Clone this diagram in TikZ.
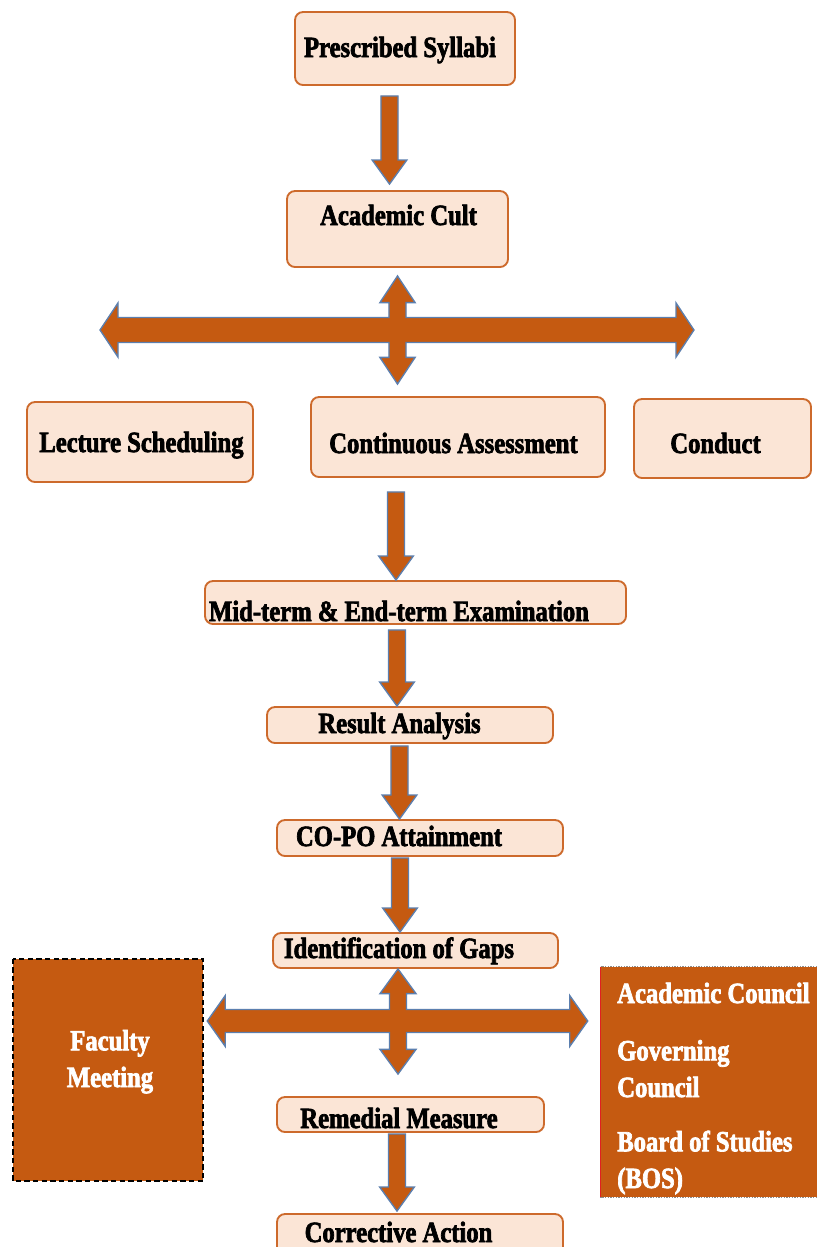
\documentclass[tikz,border=0pt]{standalone}
\usepackage{fontspec}
\newfontfamily\hfont{Liberation Serif}[FakeStretch=0.84,BoldFeatures={FakeBold=2.4}]
\usetikzlibrary{calc,fit}

\definecolor{boxfill}{HTML}{FBE5D6}
\definecolor{boxline}{HTML}{CD6A2C}
\definecolor{rust}{HTML}{C55A11}
\definecolor{arrowline}{HTML}{5B7FAF}
\definecolor{dotgray}{HTML}{8C8C8C}
\definecolor{edgered}{HTML}{E02020}

\tikzset{
  stagebox/.style={draw=boxline, fill=boxfill, line width=1.4pt, rounded corners=6pt, inner sep=0pt},
  darkbox/.style={fill=rust, inner sep=0pt},
  captxt/.style={font=\hfont\bfseries\fontsize{22}{27.5}\selectfont, inner sep=0pt, anchor=base},
  whitetxt/.style={captxt, text=white},
  blk/.style={fill=rust, draw=arrowline, line width=1pt, line join=miter},
}

% downward block arrow: #1 source node, #2 target node, #3 x (px), #4 gap below source, #5 gap above target
\newcommand{\blockdown}[5]{%
  \draw[blk] let \p1=(#1.south), \p2=(#2.north), \p3=(#3,0) in
    (\x3-6.4pt,\y1-#4*0.75pt) -- (\x3+6.4pt,\y1-#4*0.75pt)
    -- (\x3+6.4pt,\y2+#5*0.75pt+18pt) -- (\x3+13pt,\y2+#5*0.75pt+18pt)
    -- (\x3,\y2+#5*0.75pt)
    -- (\x3-13pt,\y2+#5*0.75pt+18pt) -- (\x3-6.4pt,\y2+#5*0.75pt+18pt) -- cycle;}

% four-way block arrow: tips #1 top, #2 bottom, #3 left, #4 right
\newcommand{\blockcross}[4]{%
  \draw[blk] let \p1=(#1), \p2=(#2), \p3=(#3), \p4=(#4) in
    (\x1,\y1) -- (\x1+\crHV,\y1-\crLV) -- (\x1+\crSV,\y1-\crLV) -- (\x1+\crSV,\y3+\crSH)
    -- (\x4-\crLH,\y3+\crSH) -- (\x4-\crLH,\y3+\crHH) -- (\x4,\y3) -- (\x4-\crLH,\y3-\crHH)
    -- (\x4-\crLH,\y3-\crSH) -- (\x1+\crSV,\y3-\crSH) -- (\x1+\crSV,\y2+\crLV)
    -- (\x1+\crHV,\y2+\crLV) -- (\x1,\y2) -- (\x1-\crHV,\y2+\crLV) -- (\x1-\crSV,\y2+\crLV)
    -- (\x1-\crSV,\y3-\crSH) -- (\x3+\crLH,\y3-\crSH) -- (\x3+\crLH,\y3-\crHH) -- (\x3,\y3)
    -- (\x3+\crLH,\y3+\crHH) -- (\x3+\crLH,\y3+\crSH) -- (\x1-\crSV,\y3+\crSH)
    -- (\x1-\crSV,\y1-\crLV) -- (\x1-\crHV,\y1-\crLV) -- cycle;}

\begin{document}
\begin{tikzpicture}[x=0.75pt,y=-0.75pt]
\useasboundingbox (0,0) rectangle (817,1247);
\fill[white] (0,0) rectangle (817,1247);

% stage boxes
\node[stagebox, fit={(295,12) (515,85)}]    (ps) {};
\node[stagebox, fit={(287,191) (508,267)}]  (ac) {};
\node[stagebox, fit={(27,402) (253,482)}]   (ls) {};
\node[stagebox, fit={(311,397) (605,477)}]  (ca) {};
\node[stagebox, fit={(634,399) (811,478)}]  (cd) {};
\node[stagebox, fit={(205,581) (626,624)}]  (me) {};
\node[stagebox, fit={(267,707) (553,743)}]  (ra) {};
\node[stagebox, fit={(277,820) (563,856)}]  (co) {};
\node[stagebox, fit={(273,933) (558,968)}]  (ig) {};
\node[stagebox, fit={(277,1097) (544,1132)}] (rm) {};
\node[stagebox, fit={(277,1214) (563,1262)}] (cr) {};

% side panels
\node[darkbox, fit={(13,959) (203,1181)}] (fm) {};
\draw[black, line width=1.3pt, dash pattern=on 4pt off 2.5pt] (fm.north west) rectangle (fm.south east);
\node[darkbox, fit={(601,967) (830,1197)}] (gb) {};
\draw[dotgray, line width=1pt, densely dotted] (gb.north west) rectangle (gb.south east);
\draw[edgered, line width=1pt] (gb.north west) -- (gb.south west);

% labels
\node[captxt] (psT) at (400,57)    {Prescribed Syllabi};
\node[captxt] (acT) at (398.5,225) {Academic Cult};
\node[captxt] (lsT) at (141.5,452) {Lecture Scheduling};
\node[captxt] (caT) at (453.5,453) {Continuous Assessment};
\node[captxt] (cdT) at (715.5,453) {Conduct};
\node[captxt] (meT) at (399,621)   {Mid-term \& End-term Examination};
\node[captxt] (raT) at (399.5,733) {Result Analysis};
\node[captxt] (coT) at (399,846)   {CO-PO Attainment};
\node[captxt] (igT) at (399,958)   {Identification of Gaps};
\node[captxt] (rmT) at (399,1128)  {Remedial Measure};
\node[captxt] (crT) at (398.5,1242) {Corrective Action};

% multi-line labels sit on the baseline of their last line
\node[whitetxt, align=center] (fmT) at (110,1087) {Faculty\\Meeting};
\node[whitetxt, anchor=base west] (gb1) at (617,1003) {Academic Council};
\node[whitetxt, anchor=base west, align=left] (gb2) at (617,1097) {Governing\\Council};
\node[whitetxt, anchor=base west, align=left] (gb3) at (617,1188) {Board of Studies\\(BOS)};

% straight flow arrows
\blockdown{ps}{ac}{389.5}{10}{6}
\blockdown{ca}{me}{396}{14}{0}
\blockdown{me}{ra}{397}{5}{0}
\blockdown{ra}{co}{399.5}{2}{0}
\blockdown{co}{ig}{400}{1}{0}
\blockdown{rm}{cr}{397}{1}{2}

% upper four-way arrow
\coordinate (hub1) at (397.5,330);
\coordinate (xl) at (100,330);
\coordinate (xr) at (694,330);
\def\crSV{6.4pt}\def\crHV{13.2pt}\def\crLV{20pt}
\def\crSH{9.4pt}\def\crHH{20.3pt}\def\crLH{13.5pt}
\blockcross{$(ac.south -| hub1)+(0,8)$}{$(ca.north -| hub1)+(0,-12)$}{xl}{xr}

% lower four-way arrow
\coordinate (hub2) at (398,1021);
\def\crSV{6.4pt}\def\crHV{13.5pt}\def\crLV{18.5pt}
\def\crSH{8.6pt}\def\crHH{19.1pt}\def\crLH{13.5pt}
\blockcross{ig.south -| hub2}{$(rm.north -| hub2)+(0,-22)$}{$(fm.east |- hub2)+(4,0)$}{$(gb.west |- hub2)+(-13,0)$}
\end{tikzpicture}
\end{document}
